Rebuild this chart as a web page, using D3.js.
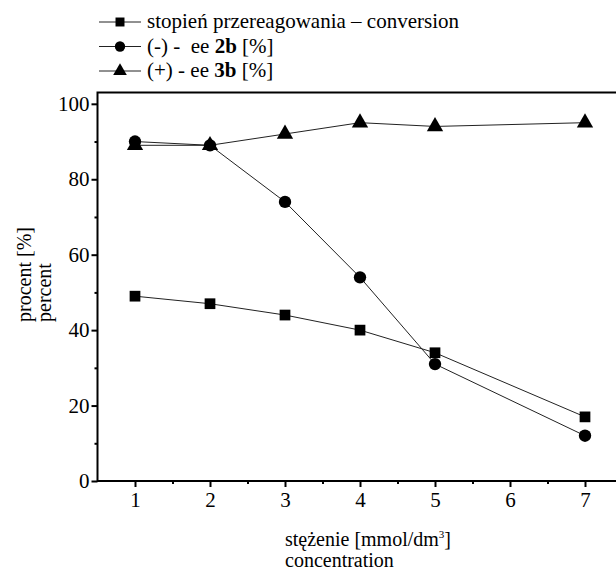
<!DOCTYPE html>
<html lang="en">
  <head>
    <meta charset="utf-8">
    <title>procent vs stezenie</title>
    <script src="https://d3js.org/d3.v7.min.js"></script>
    <style>
    body { margin: 0; background: #fff; }
    text { font-family: "Liberation Serif", "Times New Roman", serif; fill: #000; }
    </style>
  </head>
  <body>
    <div id="chart1"></div>
    <script type="text/javascript">
      // data
      var conc = [1, 2, 3, 4, 5, 7];
      var conversion = [49, 47, 44, 40, 34, 17];
      var ee2b = [90, 89, 74, 54, 31, 12];
      var ee3b = [89, 89, 92, 95, 94, 95];
      var xTicks = [1, 2, 3, 4, 5, 6, 7];
      var yTicks = [0, 20, 40, 60, 80, 100];

      var series = [
        { name: "conversion", values: conversion, marker: d3.symbolSquare, size: 115 },
        { name: "ee2b", values: ee2b, marker: d3.symbolCircle, size: 120 },
        { name: "ee3b", values: ee3b, marker: d3.symbolTriangle, size: 115 }
      ];

      var W = 616, H = 571;
      var svg = d3.select("#chart1").append("svg")
        .attr("width", W).attr("height", H);

      var x = d3.scaleLinear().domain([0.5, 7.5]).range([97.5, 622.5]);
      var y = d3.scaleLinear().domain([0, 103]).range([481, 92.5]);

      // frame
      svg.append("rect")
        .attr("x", x(0.5)).attr("y", y(103))
        .attr("width", x(7.5) - x(0.5)).attr("height", y(0) - y(103))
        .attr("fill", "none").attr("stroke", "#000").attr("stroke-width", 2);

      // axes
      svg.append("g").attr("transform", "translate(0," + y(0) + ")")
        .call(d3.axisBottom(x).tickValues(xTicks).tickSize(6).tickPadding(5).tickFormat(d3.format("d")));
      svg.append("g").attr("transform", "translate(0," + y(0) + ")")
        .call(d3.axisBottom(x).tickValues(d3.range(1.5, 7.5, 1)).tickSize(3).tickFormat(""));
      svg.append("g").attr("transform", "translate(" + x(0.5) + ",0)")
        .call(d3.axisLeft(y).tickValues(yTicks).tickSize(6).tickPadding(2));
      svg.append("g").attr("transform", "translate(" + x(0.5) + ",0)")
        .call(d3.axisLeft(y).tickValues(d3.range(10, 100, 20)).tickSize(3).tickFormat(""));

      svg.selectAll(".domain").remove();
      svg.selectAll(".tick line").attr("stroke", "#000").attr("stroke-width", 2);
      svg.selectAll(".tick text")
        .style("font-family", '"Liberation Serif", serif')
        .style("font-size", "21px").attr("fill", "#000");

      // lines and markers
      var line = d3.line()
        .x(function (d, i) { return x(conc[i]); })
        .y(function (d) { return y(d); });

      series.forEach(function (s) {
        svg.append("path")
          .datum(s.values)
          .attr("d", line)
          .attr("fill", "none")
          .attr("stroke", "#222")
          .attr("stroke-width", 1);
      });
      series.forEach(function (s) {
        svg.selectAll(".m-" + s.name)
          .data(s.values)
          .enter().append("path")
          .attr("class", "m-" + s.name)
          .attr("transform", function (d, i) { return "translate(" + x(conc[i]) + "," + y(d) + ")"; })
          .attr("d", d3.symbol().type(s.marker).size(s.size))
          .attr("fill", "#000");
      });

      // legend
      var legendRows = [
        [{ t: "stopień przereagowania – conversion" }],
        [{ t: "(-) -  ee " }, { t: "2b", b: true }, { t: " [%]" }],
        [{ t: "(+) - ee " }, { t: "3b", b: true }, { t: " [%]" }]
      ];
      legendRows.forEach(function (row, i) {
        var cy = 22 + i * 24.5;
        var g = svg.append("g");
        g.append("line").attr("x1", 99).attr("x2", 141).attr("y1", cy).attr("y2", cy)
          .attr("stroke", "#222").attr("stroke-width", 1);
        g.append("path").attr("transform", "translate(120," + cy + ")")
          .attr("d", d3.symbol().type(series[i].marker).size(series[i].size * 0.7))
          .attr("fill", "#000");
        var t = g.append("text").attr("x", 147).attr("y", cy + 6)
          .style("font-size", "21px").attr("xml:space", "preserve");
        row.forEach(function (p) {
          t.append("tspan").text(p.t).style("font-weight", p.b ? "bold" : "normal");
        });
      });

      // axis titles
      var xt = svg.append("text").attr("x", 285).attr("y", 546).style("font-size", "20px");
      xt.append("tspan").text("stężenie [mmol/dm");
      xt.append("tspan").text("3").attr("dy", -8).style("font-size", "11px");
      xt.append("tspan").text("]").attr("dy", 8);
      svg.append("text").attr("x", 285).attr("y", 567).style("font-size", "20px").text("concentration");

      svg.append("text").attr("transform", "translate(31,322) rotate(-90)")
        .style("font-size", "20px").text("procent [%]");
      svg.append("text").attr("transform", "translate(51,322) rotate(-90)")
        .style("font-size", "20px").text("percent");
    </script>
  </body>
</html>
